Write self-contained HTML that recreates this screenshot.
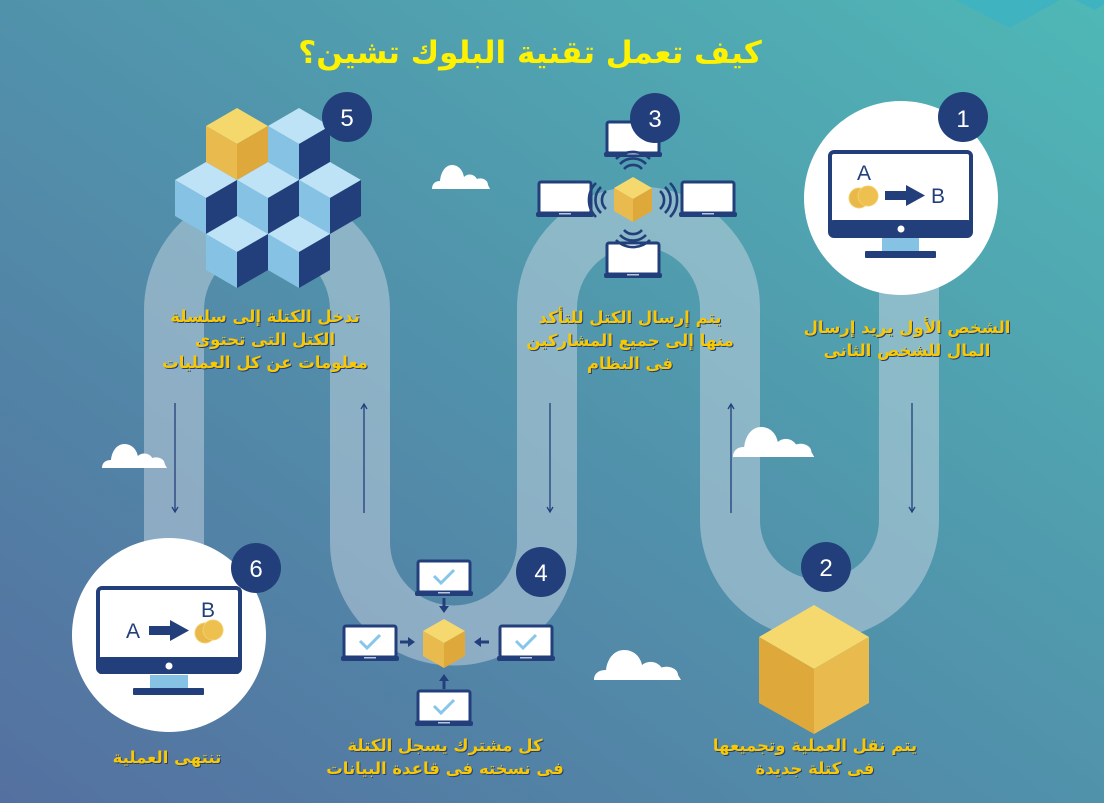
<!DOCTYPE html>
<html><head><meta charset="utf-8">
<style>
html,body{margin:0;padding:0;}
body{width:1104px;height:803px;overflow:hidden;}
svg{display:block;}
.t{font-family:"DejaVu Sans","Liberation Sans",sans-serif;font-weight:bold;font-size:16.5px;text-anchor:middle;direction:rtl;}
</style></head><body>
<svg width="1104" height="803" viewBox="0 0 1104 803" xmlns="http://www.w3.org/2000/svg">
<defs>
<linearGradient id="bg" x1="0" y1="1" x2="1" y2="0">
<stop offset="0" stop-color="#5470a0"/>
<stop offset="0.5" stop-color="#5192ab"/>
<stop offset="1" stop-color="#4fb8b6"/>
</linearGradient>
<g id="lap">
<rect x="0" y="0" width="52" height="31" rx="2" fill="#fff" stroke="#223f7b" stroke-width="3"/>
<rect x="-3" y="30" width="58" height="5" rx="2" fill="#223f7b"/>
<rect x="20" y="31" width="12" height="1.5" fill="#b9c6dd"/>
</g>
<g id="chk"><path d="M16 15 L23 22 L36 9" fill="none" stroke="#86c6ea" stroke-width="3"/></g>
<path id="cloud" d="M0 24 C0 18 4 16 8 16 C9 6 14 0 20 0 C27 0 31 6 32 12 C36 8 42 9 45 14 C50 12 56 15 56 20 L58 24 Z" fill="#fff"/>
</defs>
<rect width="1104" height="803" fill="url(#bg)"/>
<polygon points="955,0 1010,28 1060,0" fill="#3fb4c0"/>
<polygon points="1075,0 1095,10 1104,4 1104,0" fill="#3fb4c0"/>

<path d="M174 560 L174 310 A93 93 0 0 1 360 310 L360 542 A93.5 93.5 0 0 0 547 542 L547 308 A91.5 91.5 0 0 1 730 308 L730 520 A89.5 89.5 0 0 0 909 520 L909 200" fill="none" stroke="#c8d6e2" stroke-opacity="0.5" stroke-width="60"/>

<g stroke="#223f7b" stroke-width="1.3" fill="none">
<line x1="175" y1="403" x2="175" y2="512"/><path d="M172 507 L175 512 L178 507"/>
<line x1="364" y1="405" x2="364" y2="513"/><path d="M361 409 L364 404 L367 409"/>
<line x1="550" y1="403" x2="550" y2="512"/><path d="M547 507 L550 512 L553 507"/>
<line x1="731" y1="405" x2="731" y2="513"/><path d="M728 409 L731 404 L734 409"/>
<line x1="912" y1="403" x2="912" y2="512"/><path d="M909 507 L912 512 L915 507"/>
</g>

<use href="#cloud" transform="translate(432,165)"/>
<use href="#cloud" transform="translate(102,444) scale(1.12,1)"/>
<use href="#cloud" transform="translate(733,427) scale(1.4,1.25)"/>
<use href="#cloud" transform="translate(594,650) scale(1.5,1.25)"/>

<text x="530" y="63" class="t" style="font-size:31px" fill="#fff200">كيف تعمل تقنية البلوك تشين؟</text>

<circle cx="901" cy="198" r="97" fill="#fff"/>
<rect x="830" y="152" width="141" height="84" rx="4" fill="#fff" stroke="#223f7b" stroke-width="4"/>
<rect x="830" y="220" width="141" height="17" rx="3" fill="#223f7b"/>
<circle cx="901" cy="229" r="3.5" fill="#fff"/>
<rect x="882" y="238" width="37" height="14" fill="#86c2e4"/>
<rect x="865" y="251" width="71" height="7" rx="1" fill="#223f7b"/>
<text x="864" y="180" font-family="Liberation Sans" font-size="21" fill="#223f7b" text-anchor="middle">A</text>
<text x="938" y="203" font-family="Liberation Sans" font-size="21" fill="#223f7b" text-anchor="middle">B</text>
<circle cx="859" cy="198" r="10" fill="#e8b94a" stroke="#f3d06a"/>
<circle cx="868" cy="196" r="10" fill="#edc050" stroke="#f3d06a"/>
<rect x="885" y="191" width="22" height="9" fill="#223f7b"/><polygon points="906,185 925,195.5 906,206" fill="#223f7b"/>
<circle cx="963" cy="117" r="25" fill="#223f7b"/>
<text x="963" y="127" font-family="Liberation Sans" font-size="24" fill="#fff" text-anchor="middle">1</text>

<circle cx="169" cy="635" r="97" fill="#fff"/>
<rect x="98" y="588" width="142" height="84" rx="4" fill="#fff" stroke="#223f7b" stroke-width="4"/>
<rect x="98" y="657" width="142" height="17" rx="3" fill="#223f7b"/>
<circle cx="169" cy="666" r="3.5" fill="#fff"/>
<rect x="150" y="675" width="38" height="14" fill="#86c2e4"/>
<rect x="133" y="688" width="71" height="7" rx="1" fill="#223f7b"/>
<text x="133" y="638" font-family="Liberation Sans" font-size="21" fill="#223f7b" text-anchor="middle">A</text>
<text x="208" y="617" font-family="Liberation Sans" font-size="21" fill="#223f7b" text-anchor="middle">B</text>
<rect x="149" y="626" width="22" height="9" fill="#223f7b"/><polygon points="170,620 189,630.5 170,641" fill="#223f7b"/>
<circle cx="205" cy="633" r="10" fill="#e8b94a" stroke="#f3d06a"/>
<circle cx="213" cy="630" r="10" fill="#edc050" stroke="#f3d06a"/>
<circle cx="256" cy="568" r="25" fill="#223f7b"/>
<text x="256" y="577" font-family="Liberation Sans" font-size="24" fill="#fff" text-anchor="middle">6</text>

<g>
<g transform="translate(299,108)"><path d="M0 0 L31 18 L0 36 L-31 18Z" fill="#bfe3f6"/><path d="M-31 18 L0 36 L0 72 L-31 54Z" fill="#86c2e4"/><path d="M31 18 L0 36 L0 72 L31 54Z" fill="#223f7b"/></g>
<g transform="translate(237,108)"><path d="M0 0 L31 18 L0 36 L-31 18Z" fill="#f5d86c"/><path d="M-31 18 L0 36 L0 72 L-31 54Z" fill="#e9bb4e"/><path d="M31 18 L0 36 L0 72 L31 54Z" fill="#dea83a"/></g>
<g transform="translate(206,162)"><path d="M0 0 L31 18 L0 36 L-31 18Z" fill="#bfe3f6"/><path d="M-31 18 L0 36 L0 72 L-31 54Z" fill="#86c2e4"/><path d="M31 18 L0 36 L0 72 L31 54Z" fill="#223f7b"/></g>
<g transform="translate(268,162)"><path d="M0 0 L31 18 L0 36 L-31 18Z" fill="#bfe3f6"/><path d="M-31 18 L0 36 L0 72 L-31 54Z" fill="#86c2e4"/><path d="M31 18 L0 36 L0 72 L31 54Z" fill="#223f7b"/></g>
<g transform="translate(330,162)"><path d="M0 0 L31 18 L0 36 L-31 18Z" fill="#bfe3f6"/><path d="M-31 18 L0 36 L0 72 L-31 54Z" fill="#86c2e4"/><path d="M31 18 L0 36 L0 72 L31 54Z" fill="#223f7b"/></g>
<g transform="translate(237,216)"><path d="M0 0 L31 18 L0 36 L-31 18Z" fill="#bfe3f6"/><path d="M-31 18 L0 36 L0 72 L-31 54Z" fill="#86c2e4"/><path d="M31 18 L0 36 L0 72 L31 54Z" fill="#223f7b"/></g>
<g transform="translate(299,216)"><path d="M0 0 L31 18 L0 36 L-31 18Z" fill="#bfe3f6"/><path d="M-31 18 L0 36 L0 72 L-31 54Z" fill="#86c2e4"/><path d="M31 18 L0 36 L0 72 L31 54Z" fill="#223f7b"/></g>
</g>
<circle cx="347" cy="117" r="25" fill="#223f7b"/>
<text x="347" y="126" font-family="Liberation Sans" font-size="24" fill="#fff" text-anchor="middle">5</text>

<path d="M814 605 L869 637 L814 669 L759 637Z" fill="#f5d86e"/>
<path d="M759 637 L814 669 L814 734 L759 703Z" fill="#dea83a"/>
<path d="M869 637 L814 669 L814 734 L869 703Z" fill="#e9bb4e"/>
<circle cx="826" cy="567" r="25" fill="#223f7b"/>
<text x="826" y="576" font-family="Liberation Sans" font-size="24" fill="#fff" text-anchor="middle">2</text>

<use href="#lap" transform="translate(607,122)"/>
<use href="#lap" transform="translate(539,182)"/>
<use href="#lap" transform="translate(682,182)"/>
<use href="#lap" transform="translate(607,243)"/>
<path d="M633 177 L652 188 L633 199 L614 188Z" fill="#f5d86e"/>
<path d="M614 188 L633 199 L633 222 L614 211Z" fill="#e9bb4e"/>
<path d="M652 188 L633 199 L633 222 L652 211Z" fill="#dea83a"/>
<g stroke="#223f7b" stroke-width="2.6" fill="none">
<path d="M624 169 A12 12 0 0 1 642 169"/><path d="M620 164 A18 18 0 0 1 646 164"/><path d="M616 159 A24 24 0 0 1 650 159"/>
<path d="M624 230 A12 12 0 0 0 642 230"/><path d="M620 235 A18 18 0 0 0 646 235"/><path d="M616 240 A24 24 0 0 0 650 240"/>
<path d="M606 191 A12 12 0 0 0 606 209"/><path d="M601 187 A18 18 0 0 0 601 213"/><path d="M596 183 A24 24 0 0 0 596 217"/>
<path d="M660 191 A12 12 0 0 1 660 209"/><path d="M665 187 A18 18 0 0 1 665 213"/><path d="M670 183 A24 24 0 0 1 670 217"/>
</g>
<circle cx="655" cy="118" r="25" fill="#223f7b"/>
<text x="655" y="127" font-family="Liberation Sans" font-size="24" fill="#fff" text-anchor="middle">3</text>

<use href="#lap" transform="translate(418,561)"/><use href="#chk" transform="translate(418,561)"/>
<use href="#lap" transform="translate(344,626)"/><use href="#chk" transform="translate(344,626)"/>
<use href="#lap" transform="translate(500,626)"/><use href="#chk" transform="translate(500,626)"/>
<use href="#lap" transform="translate(418,691)"/><use href="#chk" transform="translate(418,691)"/>
<path d="M444 619 L465 631 L444 643 L423 631Z" fill="#f5d86e"/>
<path d="M423 631 L444 643 L444 668 L423 656Z" fill="#e9bb4e"/>
<path d="M465 631 L444 643 L444 668 L465 656Z" fill="#dea83a"/>
<g fill="#223f7b">
<rect x="442.5" y="598" width="3" height="10"/><polygon points="439,606 449,606 444,613"/>
<rect x="442.5" y="679" width="3" height="10"/><polygon points="439,681 449,681 444,674"/>
<rect x="400" y="640.5" width="9" height="3"/><polygon points="408,637 408,647 415,642"/>
<rect x="480" y="640.5" width="9" height="3"/><polygon points="481,637 481,647 474,642"/>
</g>
<circle cx="541" cy="572" r="25" fill="#223f7b"/>
<text x="541" y="581" font-family="Liberation Sans" font-size="24" fill="#fff" text-anchor="middle">4</text>

<g class="t" fill="#223f7b" transform="translate(1,1)">
<text x="907" y="333">الشخص الأول يريد إرسال</text>
<text x="907" y="356">المال للشخص الثانى</text>
<text x="630" y="323">يتم إرسال الكتل للتأكد</text>
<text x="630" y="346">منها إلى جميع المشاركين</text>
<text x="630" y="369">فى النظام</text>
<text x="265" y="322">تدخل الكتلة إلى سلسلة</text>
<text x="265" y="345">الكتل التى تحتوى</text>
<text x="265" y="368">معلومات عن كل العمليات</text>
<text x="815" y="751">يتم نقل العملية وتجميعها</text>
<text x="815" y="774">فى كتلة جديدة</text>
<text x="445" y="751">كل مشترك يسجل الكتلة</text>
<text x="445" y="774">فى نسخته فى قاعدة البيانات</text>
<text x="167" y="763">تنتهى العملية</text>
</g>
<g class="t" fill="#f9c800">
<text x="907" y="333">الشخص الأول يريد إرسال</text>
<text x="907" y="356">المال للشخص الثانى</text>
<text x="630" y="323">يتم إرسال الكتل للتأكد</text>
<text x="630" y="346">منها إلى جميع المشاركين</text>
<text x="630" y="369">فى النظام</text>
<text x="265" y="322">تدخل الكتلة إلى سلسلة</text>
<text x="265" y="345">الكتل التى تحتوى</text>
<text x="265" y="368">معلومات عن كل العمليات</text>
<text x="815" y="751">يتم نقل العملية وتجميعها</text>
<text x="815" y="774">فى كتلة جديدة</text>
<text x="445" y="751">كل مشترك يسجل الكتلة</text>
<text x="445" y="774">فى نسخته فى قاعدة البيانات</text>
<text x="167" y="763">تنتهى العملية</text>
</g>
</svg>
</body></html>
